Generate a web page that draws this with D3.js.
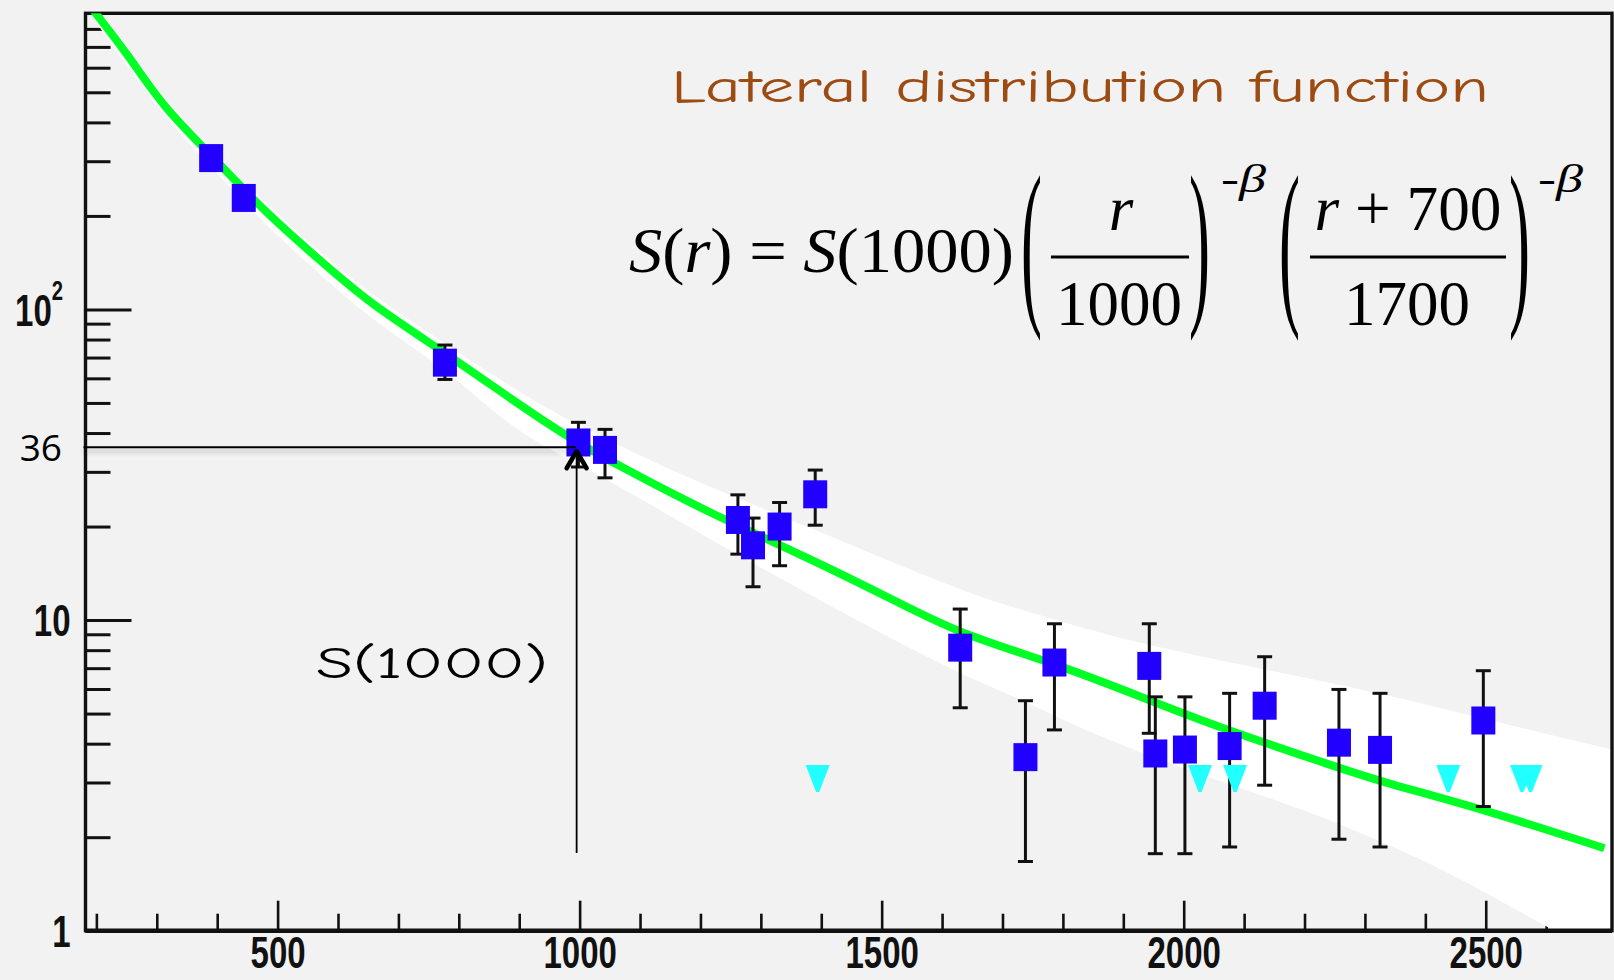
<!DOCTYPE html>
<html>
<head>
<meta charset="utf-8">
<script src="https://cdn.jsdelivr.net/npm/d3@7"></script>
<style>
  html, body { margin: 0; padding: 0; background: #f2f2f2; }
  svg { display: block; }
</style>
</head>
<body>
<svg id="chart" width="1614" height="980"></svg>
<script>
// ---- Frame ranges: core distance r (m) and station signal S (VEM) ----
const xDomain = [182, 2709];
const yDomain = [1, 898];

// ---- Axis ticks ----
const xMajorTicks = [500, 1000, 1500, 2000, 2500];
const xMinorTicks = [200, 300, 400, 600, 700, 800, 900, 1100, 1200, 1300, 1400, 1600, 1700, 1800, 1900,
                     2100, 2200, 2300, 2400, 2600, 2700];
const yMajorTicks = [1, 10, 100];
const yMinorTicks = [2, 3, 4, 5, 6, 7, 8, 9, 20, 30, 40, 50, 60, 70, 80, 90, 200, 300, 400, 500, 600, 700, 800];

// ---- Triggered stations: distance, signal and error bar ends ----
const stationR  = [390, 444, 777, 998, 1042, 1262, 1287, 1331, 1390, 1630, 1738, 1786, 1943, 1953, 2002, 2076, 2134, 2257, 2325, 2496];
const stationS  = [307, 228.5, 67.4, 37.3, 35.3, 21.0, 17.4, 20.0, 25.4, 8.15, 3.62, 7.30, 7.12, 3.72, 3.83, 3.93, 5.30, 4.03, 3.82, 4.75];
const stationLo = [null, null, 59.5, 31.1, 28.7, 16.3, 12.8, 14.96, 20.2, 5.22, 1.67, 4.43, 4.32, 1.77, 1.77, 1.86, 2.94, 1.97, 1.86, 2.51];
const stationHi = [null, null, 76.8, 43.3, 41.1, 25.3, 21.3, 23.9, 30.4, 10.85, 5.50, 9.73, 9.73, 5.66, 5.66, 5.81, 7.62, 5.98, 5.81, 6.87];

// ---- Silent stations (upper limits) ----
const silentR = [1394, 2027, 2085, 2438, 2560, 2574];
const silentS = [3.08, 3.08, 3.08, 3.08, 3.08, 3.08];

// ---- Fitted lateral distribution function ----
const fitR = [197, 255, 310, 393, 481, 570, 652, 779, 889, 983, 1066, 1215, 1380, 1530, 1630, 1786, 1943, 2052, 2258, 2329, 2499, 2690];
const fitS = [908, 650, 449, 310, 204, 144, 104.5, 72.2, 51.1, 38.5, 31.3, 22.1, 15.83, 11.34, 9.02, 7.27, 5.53, 4.56, 3.34, 3.01, 2.45, 1.86];

// ---- Uncertainty band of the fit ----
const bandUpperR = [197, 310, 392, 482, 570, 652, 780, 917, 1061, 1198, 1392, 1640, 1789, 1943, 2278, 2498, 2712];
const bandUpperS = [954, 475, 328, 217, 153, 112, 77.3, 51.1, 36.6, 27.6, 19.5, 12.13, 10.0, 8.19, 6.13, 4.80, 3.82];
const bandLowerR = [197, 310, 392, 482, 570, 652, 780, 834, 917, 1026, 1198, 1331, 1480, 1629, 1750, 1828, 2026, 2221, 2448, 2601, 2712];
const bandLowerS = [853, 419, 285, 185, 130, 93.8, 63.8, 51.1, 38.0, 29.9, 19.05, 13.65, 9.49, 6.70, 5.37, 4.46, 3.17, 2.39, 1.53, 1.02, 0.805];

// ---- Reference value S(1000) ----
const refR = 1000;
const refS = 36;
const arrowFootS = 1.78;

const W = 1614, H = 980;
const plot = { left: 85.5, right: 1612, top: 13.3, bottom: 930.7 };

const svg = d3.select("#chart");
const x = d3.scaleLinear().domain(xDomain).range([plot.left, plot.right]);
const y = d3.scaleLog().domain(yDomain).range([plot.bottom, plot.top]);

svg.append("rect").attr("width", W).attr("height", H).attr("fill", "#f2f2f2");

const defs = svg.append("defs");
defs.append("clipPath").attr("id", "plotClip")
  .append("rect")
  .attr("x", plot.left).attr("y", plot.top)
  .attr("width", plot.right - plot.left).attr("height", plot.bottom - plot.top);
const shadow = defs.append("filter").attr("id", "lineShadow")
  .attr("filterUnits", "userSpaceOnUse")
  .attr("x", 0).attr("y", 0).attr("width", W).attr("height", H);
shadow.append("feDropShadow")
  .attr("dx", 0).attr("dy", 4).attr("stdDeviation", 2.5)
  .attr("flood-color", "#000").attr("flood-opacity", 0.28);

// ---- Ticks (drawn inward, ROOT style) ----
const axisFont = "'Liberation Sans', Arial, sans-serif";

function styleTicks(g, width) {
  g.select(".domain").remove();
  g.selectAll(".tick line").attr("stroke", "#111").attr("stroke-width", width);
}

svg.append("g").attr("transform", `translate(0,${plot.bottom})`)
  .call(d3.axisBottom(x).tickValues(xMinorTicks).tickSize(-17).tickFormat(""))
  .call(g => styleTicks(g, 2.6));

const gx = svg.append("g").attr("transform", `translate(0,${plot.bottom})`)
  .call(d3.axisBottom(x).tickValues(xMajorTicks).tickSize(-30).tickPadding(6).tickFormat(d3.format("d")))
  .call(g => styleTicks(g, 2.6));
gx.attr("font-family", axisFont).attr("font-size", 44).attr("font-weight", "bold");
gx.selectAll(".tick text").attr("fill", "#111").attr("transform", "scale(0.75,1)");

svg.append("g").attr("transform", `translate(${plot.left},0)`)
  .call(d3.axisLeft(y).tickValues(yMinorTicks).tickSize(-25).tickFormat(""))
  .call(g => styleTicks(g, 3));

const gy = svg.append("g").attr("transform", `translate(${plot.left},0)`)
  .call(d3.axisLeft(y).tickValues(yMajorTicks).tickSize(-46)
        .tickFormat(d => d === 100 ? "10" : d3.format("d")(d)))
  .call(g => styleTicks(g, 3));
gy.attr("font-family", axisFont).attr("font-size", 44).attr("font-weight", "bold");
gy.selectAll(".tick text")
  .attr("fill", "#111")
  .attr("dy", "0.36em")
  .attr("x", d => d === 100 ? -30 : -20)
  .attr("transform", "scale(0.75,1)")
  .each(function (d) {
    if (d === 100) {
      d3.select(this).append("tspan").attr("font-size", 27).attr("dy", "-0.95em").text("2");
    }
  });

// ---- Fit uncertainty band ----
const edge = d3.line().x(d => x(d[0])).y(d => y(d[1])).curve(d3.curveBasis);
const upperPts = d3.zip(bandUpperR, bandUpperS);
const lowerPts = d3.zip(bandLowerR, bandLowerS).reverse();
svg.append("path")
  .attr("clip-path", "url(#plotClip)")
  .attr("d", edge(upperPts) + edge(lowerPts).replace(/^M/, "L") + "Z")
  .attr("fill", "#ffffff");

// ---- Frame ----
svg.append("rect")
  .attr("x", plot.left).attr("y", plot.top)
  .attr("width", plot.right - plot.left).attr("height", plot.bottom - plot.top)
  .attr("fill", "none").attr("stroke", "#111").attr("stroke-width", 3.4);
svg.append("line")
  .attr("x1", plot.left).attr("x2", plot.right)
  .attr("y1", plot.bottom).attr("y2", plot.bottom)
  .attr("stroke", "#111").attr("stroke-width", 4.6);

// ---- Fitted LDF ----
svg.append("path")
  .attr("clip-path", "url(#plotClip)")
  .attr("d", edge(d3.zip(fitR, fitS)))
  .attr("fill", "none")
  .attr("stroke", "#00ff24")
  .attr("stroke-width", 8)
  .attr("stroke-linecap", "square");

// ---- Stations with error bars ----
const stations = stationR.map((r, i) => ({ r, s: stationS[i], lo: stationLo[i], hi: stationHi[i] }));
const withErr = stations.filter(d => d.lo !== null);
const capHalf = 7.5;

const errG = svg.append("g").attr("stroke", "#111").attr("stroke-width", 3);
errG.selectAll("line.bar").data(withErr).join("line").attr("class", "bar")
  .attr("x1", d => x(d.r)).attr("x2", d => x(d.r))
  .attr("y1", d => y(d.lo)).attr("y2", d => y(d.hi));
errG.selectAll("line.capHi").data(withErr).join("line").attr("class", "capHi")
  .attr("x1", d => x(d.r) - capHalf).attr("x2", d => x(d.r) + capHalf)
  .attr("y1", d => y(d.hi)).attr("y2", d => y(d.hi));
errG.selectAll("line.capLo").data(withErr).join("line").attr("class", "capLo")
  .attr("x1", d => x(d.r) - capHalf).attr("x2", d => x(d.r) + capHalf)
  .attr("y1", d => y(d.lo)).attr("y2", d => y(d.lo));

const sqW = 24, sqH = 28;
svg.append("g").selectAll("rect").data(stations).join("rect")
  .attr("x", d => x(d.r) - sqW / 2).attr("y", d => y(d.s) - sqH / 2)
  .attr("width", sqW).attr("height", sqH)
  .attr("fill", "#2200ff");

// ---- Silent stations ----
const triW = 24, triH = 28;
svg.append("g").selectAll("path").data(d3.zip(silentR, silentS)).join("path")
  .attr("transform", d => `translate(${x(d[0])},${y(d[1])})`)
  .attr("d", `M${-triW / 2},${-triH / 2}L${triW / 2},${-triH / 2}L1.5,${triH / 2 - 1}L-1.5,${triH / 2 - 1}Z`)
  .attr("fill", "#22ffff");

// ---- S(1000) marker lines ----
const ann = svg.append("g").attr("stroke", "#000").attr("fill", "none");
ann.append("line")
  .attr("x1", plot.left - 2).attr("x2", x(refR) - 4)
  .attr("y1", y(refS)).attr("y2", y(refS))
  .attr("stroke-width", 1.8)
  .attr("filter", "url(#lineShadow)");
ann.append("line")
  .attr("x1", x(refR) - 3).attr("x2", x(refR) - 3)
  .attr("y1", y(arrowFootS)).attr("y2", y(refS) + 3)
  .attr("stroke-width", 1.8);
ann.append("path")
  .attr("d", `M${x(refR) - 13},${y(refS) + 21}L${x(refR) - 3},${y(refS) + 4}L${x(refR) + 7},${y(refS) + 21}`)
  .attr("stroke-width", 4.5)
  .attr("stroke-linecap", "round").attr("stroke-linejoin", "round");

svg.append("text")
  .attr("x", 62).attr("y", y(refS) + 14)
  .attr("text-anchor", "end")
  .attr("font-family", "'Open Sans', 'Noto Sans', sans-serif")
  .attr("font-size", 37)
  .attr("fill", "#000")
  .text(refS);

const handFont = "'Segoe Print', 'Comic Neue', Lato, sans-serif";
svg.append("text")
  .attr("x", 316).attr("y", 678)
  .attr("font-family", handFont).attr("font-size", 44)
  .attr("textLength", 232).attr("lengthAdjust", "spacingAndGlyphs")
  .attr("fill", "#000")
  .text("S(1000)");

// ---- Title ----
svg.append("text")
  .attr("x", 671).attr("y", 102)
  .attr("font-family", handFont).attr("font-size", 46)
  .attr("textLength", 818).attr("lengthAdjust", "spacingAndGlyphs")
  .attr("fill", "#9c4b12")
  .text("Lateral distribution function");

// ---- LDF formula ----
const serif = "'Liberation Serif', 'Times New Roman', serif";
const fx = svg.append("g").attr("font-family", serif).attr("fill", "#000");

function richText(parent, parts, attrs) {
  const t = parent.append("text");
  Object.entries(attrs).forEach(([k, v]) => t.attr(k, v));
  parts.forEach(([str, italic]) => {
    t.append("tspan").attr("font-style", italic ? "italic" : "normal").text(str);
  });
  return t;
}

richText(fx, [["S", true], ["(", false], ["r", true], [") = ", false], ["S", true], ["(1000)", false]],
  { x: 629, y: 272, "font-size": 63, textLength: 385, lengthAdjust: "spacingAndGlyphs" });

// stretched brackets
[["(", 1021], [")", 1189], ["(", 1279], [")", 1509]].forEach(([ch, px]) => {
  fx.append("text")
    .attr("transform", `translate(${px},302) scale(1,2.9)`)
    .attr("font-size", 63)
    .text(ch);
});

// first fraction r / 1000
richText(fx, [["r", true]], { x: 1121, y: 230, "font-size": 63, "text-anchor": "middle" });
fx.append("line").attr("x1", 1051).attr("x2", 1189).attr("y1", 257).attr("y2", 257)
  .attr("stroke", "#000").attr("stroke-width", 3);
richText(fx, [["1000", false]], { x: 1119, y: 325, "font-size": 63, "text-anchor": "middle" });

// second fraction (r + 700) / 1700
richText(fx, [["r", true], [" + 700", false]],
  { x: 1408, y: 230, "font-size": 63, "text-anchor": "middle", textLength: 187, lengthAdjust: "spacingAndGlyphs" });
fx.append("line").attr("x1", 1310).attr("x2", 1506).attr("y1", 257).attr("y2", 257)
  .attr("stroke", "#000").attr("stroke-width", 3);
richText(fx, [["1700", false]], { x: 1407, y: 325, "font-size": 63, "text-anchor": "middle" });

// exponents
[1221, 1538].forEach(px => {
  richText(fx, [["-", false], ["β", true]],
    { x: px, y: 192, "font-size": 40, textLength: 45, lengthAdjust: "spacingAndGlyphs" });
});
</script>
</body>
</html>
